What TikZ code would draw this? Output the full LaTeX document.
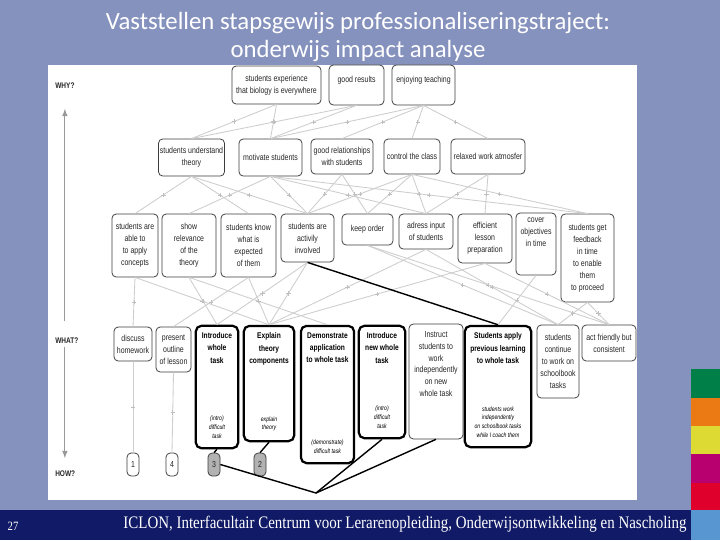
\documentclass[tikz,border=0pt]{standalone}
\usepackage{fontspec}
\setmainfont{Liberation Sans}
\newfontfamily\titlefont{Carlito}
\newfontfamily\diagfont[FakeStretch=0.8]{Liberation Sans}
\newfontfamily\footfont[FakeStretch=0.85]{Liberation Serif}
\usetikzlibrary{decorations.markings}

\definecolor{slide}{RGB}{134,146,190}
\definecolor{footband}{RGB}{16,26,102}
\definecolor{footblue}{RGB}{88,150,210}
\definecolor{ugreen}{RGB}{0,128,72}
\definecolor{uorange}{RGB}{236,122,20}
\definecolor{uyellow}{RGB}{222,218,52}
\definecolor{umagenta}{RGB}{184,0,110}
\definecolor{ured}{RGB}{224,0,44}
\definecolor{linkgray}{RGB}{205,205,205}
\definecolor{boxgray}{RGB}{60,60,60}

% text hanging from the top of a box
\newcommand{\topbox}[4][3pt]{\parbox[c][#3][t]{#2}{\centering\vspace*{#1}#4\par}}
% bold task on top, italic way of working at the bottom
\newcommand{\taskbox}[4]{\parbox[c][#2][t]{#1}{\centering\vspace*{5pt}%
  {\fontsize{5.9}{8.6}\selectfont\bfseries #3\par}\vfill
  {\fontsize{4.6}{6.2}\selectfont\itshape #4\par}\vspace*{7pt}}}

\tikzset{
  box/.style={draw=boxgray, line width=0.55pt, rounded corners=3pt, fill=white,
    align=center, inner sep=1pt, text=black!85,
    font=\diagfont\fontsize{6.2}{8.5}\selectfont},
  task/.style={box, draw=black, line width=1.6pt, rounded corners=4pt, inner sep=0pt, text=black},
  howbox/.style={box, minimum width=0.3cm, minimum height=0.575cm, inner sep=0pt},
  link/.style={draw=linkgray, line width=0.6pt, postaction={decorate},
    decoration={markings, mark=at position 0.5 with {\pgftransformresetnontranslations
      \draw[black!25, line width=0.4pt] (-1.6pt,0) -- (1.6pt,0) (0,-1.6pt) -- (0,1.6pt);}}},
  strong/.style={draw=black, line width=1pt},
  axis/.style={draw=black!40, line width=0.8pt, -latex},
  level/.style={font=\diagfont\bfseries\fontsize{5.8}{7}\selectfont, text=black!85,
    anchor=west, inner sep=0pt},
}

\begin{document}
\begin{tikzpicture}[x=0.025cm, y=-0.025cm]

  % Slide background and colour strip
  \fill[slide] (0,0) rectangle (720,540);
  \fill[footband] (0,510) rectangle (691,540);
  \fill[footblue] (691,510) rectangle (720,540);
  \fill[ugreen] (691,369) rectangle (720,398);
  \fill[uorange] (691,398) rectangle (720,426);
  \fill[uyellow] (691,426) rectangle (720,454);
  \fill[umagenta] (691,454) rectangle (720,483);
  \fill[ured] (691,483) rectangle (720,510);
  \fill[white] (48,65) rectangle (637,500);

  % Title and footer
  \node[text=white, align=center, font=\titlefont\fontsize{17.6}{19.9}\selectfont] (title) at (358,37)
    {Vaststellen stapsgewijs professionaliseringstraject:\\onderwijs impact analyse};
  \node[text=white, font=\footfont\fontsize{9}{10}\selectfont] (slidenr) at (13,526) {27};
  \node[text=white, font=\footfont\fontsize{12.5}{14}\selectfont] (footer) at (405,524)
    {ICLON, Interfacultair Centrum voor Lerarenopleiding, Onderwijsontwikkeling en Nascholing};

  % Levels
  \node[level] (why) at (55,86) {WHY?};
  \node[level] (what) at (55,341) {WHAT?};
  \node[level] (how) at (55,474) {HOW?};
  \draw[axis] ([yshift=12pt]what.north -| why.south) -- ([yshift=-14pt]why.south);
  \draw[axis] ([yshift=-2pt]what.south -| why.south) -- ([yshift=9pt]how.north -| why.south);

  % Goals
  \node[box, minimum width=2.225cm, minimum height=0.95cm] (exper) at (276.5,85)
    {students experience\\that biology is everywhere};
  \node[box] (results) at (356.5,85) {\topbox[7pt]{1.3cm}{0.93cm}{good results}};
  \node[box] (enjoy) at (423.5,85) {\topbox[7pt]{1.5cm}{0.93cm}{enjoying teaching}};

  % Sub goals
  \node[box, minimum width=1.65cm, minimum height=0.925cm] (understand) at (191.5,157.5) {students understand\\theory};
  \node[box, minimum width=1.575cm, minimum height=0.925cm] (motivate) at (270.5,157.5) {motivate students};
  \node[box, minimum width=1.55cm, minimum height=0.875cm] (goodrel) at (342,156.5) {good relationships\\with students};
  \node[box, minimum width=1.4cm, minimum height=0.875cm] (control) at (412,156.5) {control the class};
  \node[box, minimum width=1.85cm, minimum height=0.875cm] (relaxed) at (488,156.5) {relaxed work atmosfer};

  % Conditions
  \node[box, minimum width=1.15cm, minimum height=1.575cm] (apply) at (135,245.5) {students are\\able to\\to apply\\concepts};
  \node[box, minimum width=1.35cm, minimum height=1.575cm] (relevance) at (189,245.5) {show\\relevance\\of the\\theory};
  \node[box, minimum width=1.375cm, minimum height=1.575cm] (expected) at (248.5,245.5) {students know\\what is\\expected\\of them};
  \node[box, minimum width=1.325cm, minimum height=1.2cm] (involved) at (307.5,238) {students are\\activily\\involved};
  \node[box, minimum width=1.275cm, minimum height=0.775cm] (keeporder) at (367.5,229.5) {keep order};
  \node[box, minimum width=1.35cm, minimum height=0.875cm] (adress) at (426,231.5) {adress input\\of students};
  \node[box, minimum width=1.35cm, minimum height=1.225cm] (efficient) at (485,238.5) {efficient\\lesson\\preparation};
  \node[box] (cover) at (536,244) {\topbox[2.5pt]{0.93cm}{1.48cm}{cover\\objectives\\in time}};
  \node[box, minimum width=1.325cm, minimum height=2.2cm] (feedback) at (587.5,258)
    {students get\\feedback\\in time\\to enable\\them\\to proceed};

  % Lesson activities
  \node[box, minimum width=0.95cm, minimum height=0.85cm] (homework) at (133,344) {discuss\\homework};
  \node[box, minimum width=0.875cm, minimum height=1.125cm] (outline) at (173.5,349.5) {present\\outline\\of lesson};
  \node[task] (introwhole) at (217,387) {\taskbox{1.06cm}{3.06cm}{Introduce\\whole\\task}{(intro)\\difficult\\task}};
  \node[task] (explain) at (269,383.5) {\taskbox{1.26cm}{2.88cm}{Explain\\theory\\components}{explain\\theory}};
  \node[task] (demo) at (327.5,394.5) {\taskbox{1.33cm}{3.43cm}{Demonstrate\\application\\to whole task}{(demonstrate)\\difficult task}};
  \node[task] (intronew) at (382,382) {\taskbox{1.16cm}{2.81cm}{Introduce\\new whole\\task}{(intro)\\difficult\\task}};
  \node[box] (instruct) at (436,381.5)
    {\topbox[4pt]{1.28cm}{2.8cm}{Instruct\\students to\\work\\independently\\on new\\whole task}};
  \node[task] (studapply) at (498,386.5) {\taskbox{1.66cm}{3.03cm}{Students apply\\previous learning\\to whole task}%
    {students work\\independently\\on schoolbook tasks\\while I coach them}};
  \node[box, minimum width=1.05cm, minimum height=1.825cm] (continue) at (558,361.5) {students\\continue\\to work on\\schoolbook\\tasks};
  \node[box, minimum width=1.35cm, minimum height=0.9cm] (friendly) at (609,343) {act friendly but\\consistent};

  % Order of the lesson
  \node[howbox] (how1) at (133,464.5) {1};
  \node[howbox] (how4) at (172,464.5) {4};
  \node[howbox, fill=black!30] (how3) at (214,464.5) {3};
  \node[howbox, fill=black!30] (how2) at (260,464.5) {2};
  \coordinate (meet) at (316,493);

  % Goals to sub goals
  \draw[link] (exper.south) -- (understand.north);
  \draw[link] (exper.south) -- (motivate.north);
  \draw[link] (results.south) -- (understand.north);
  \draw[link] (results.south) -- (motivate.north);
  \draw[link] (enjoy.south) -- (motivate.north);
  \draw[link] (enjoy.south) -- (goodrel.north);
  \draw[link] (enjoy.south) -- (control.north);
  \draw[link] (enjoy.south) -- (relaxed.north);

  % Sub goals to conditions
  \draw[link] (understand.south) -- (apply.north);
  \draw[link] (understand.south) -- (expected.north);
  \draw[link] (understand.south) -- (involved.north);
  \draw[link] (motivate.south) -- (relevance.north);
  \draw[link] (motivate.south) -- (involved.north);
  \draw[link] (motivate.south) -- (adress.north);
  \draw[link] (motivate.south) -- (feedback.north);
  \draw[link] (goodrel.south) -- (involved.north);
  \draw[link] (goodrel.south) -- (keeporder.north);
  \draw[link] (control.south) -- (involved.north);
  \draw[link] (control.south) -- (keeporder.north);
  \draw[link] (control.south) -- (adress.north);
  \draw[link] (control.south) -- (feedback.north);
  \draw[link] (relaxed.south) -- (adress.north);
  \draw[link] (relaxed.south) -- (efficient.north);

  % Conditions to lesson activities
  \draw[link] (apply.south) -- (homework.north);
  \draw[link] (apply.south) -- (explain.north);
  \draw[link] (relevance.south) -- (introwhole.north);
  \draw[link] (relevance.south) -- (demo.north);
  \draw[link] (expected.south) -- (outline.north);
  \draw[link] (expected.south) -- (explain.north);
  \draw[link] (involved.south) -- (introwhole.north);
  \draw[link] (involved.south) -- (explain.north);
  \draw[link] (keeporder.south) -- (continue.north);
  \draw[link] (keeporder.south) -- (friendly.north);
  \draw[link] (adress.south) -- (explain.north);
  \draw[link] (adress.south) -- (continue.north);
  \draw[link] (efficient.south) -- (explain.north);
  \draw[link] (efficient.south) -- (friendly.north);
  \draw[link] (cover.south) -- (studapply.north);
  \draw[link] (feedback.south) -- (continue.north);
  \draw[link] (feedback.south) -- (friendly.north);
  \draw[strong] (involved.south) -- (studapply.north);

  % Lesson activities to their order
  \draw[link] (how1.north) -- (homework.south);
  \draw[link] (how4.north) -- (outline.south);
  \draw[strong] (how3.north) -- (introwhole.south);
  \draw[strong] (how2.north) -- (explain.south);
  \draw[strong] (how3.east) -- (meet);
  \draw[strong] (intronew.south) -- (meet);
  \draw[strong] (instruct.south) -- (meet);

\end{tikzpicture}
\end{document}
